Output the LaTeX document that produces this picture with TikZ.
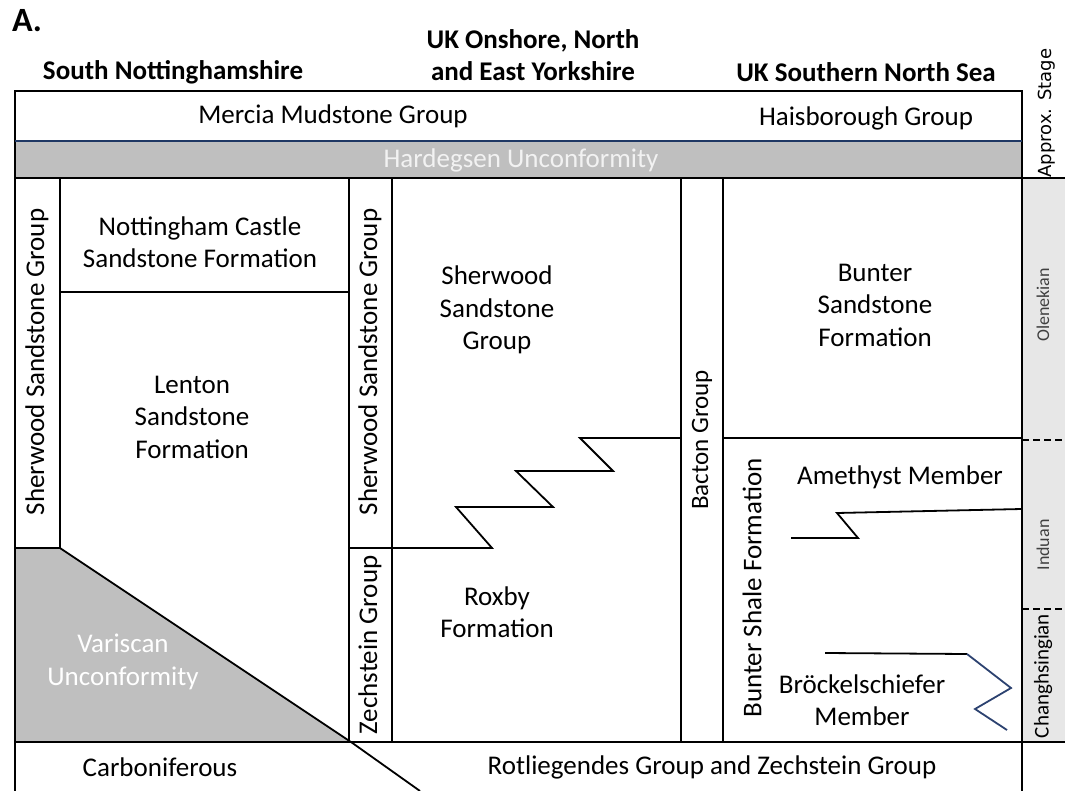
\documentclass[tikz,border=0pt]{standalone}
\usepackage{fontspec}
\setmainfont{Carlito}
\newfontfamily\widesans{DejaVu Sans}
\usepackage{tikz}
\definecolor{unconf}{RGB}{191,191,191}
\definecolor{stagegray}{RGB}{231,231,231}
\definecolor{navyline}{RGB}{31,56,100}
\definecolor{zigblue}{RGB}{44,66,112}
\tikzset{unit/.style={align=center,inner sep=0pt,font=\fontsize{27}{32.5}\selectfont},
         vunit/.style={unit,rotate=90},
         head/.style={align=center,inner sep=0pt,font=\bfseries\fontsize{27}{32}\selectfont},
         stage/.style={rotate=90,inner sep=0pt,text=black!75,font=\fontsize{18}{22}\selectfont},
         stagesep/.style={line width=1.3pt,dash pattern=on 7pt off 4pt}}

\begin{document}
\begin{tikzpicture}[x=1pt,y=-1pt,line width=1.8pt]
\useasboundingbox (0,0) rectangle (1065,791);
% shaded bands
\fill[unconf] (15,141) rectangle (1022,178);
\fill[unconf] (15,548) -- (60,548) -- (351,742) -- (15,742) -- cycle;
\fill[stagegray] (1022,178) rectangle (1065,742);
% frame and rows
\draw (15,791) -- (15,91) -- (1022,91) -- (1022,791);
\draw[navyline] (15,141) -- (1022,141);
\draw (15,178) -- (1065,178);
\draw (15,742) -- (1065,742);
% columns
\draw (60,178) -- (60,548) -- (15,548);
\draw (60,292) -- (349,292);
\draw (349,178) -- (349,742);
\draw (392,178) -- (392,742);
\draw (681,178) -- (681,742);
\draw (723,178) -- (723,742);
\draw (723,438) -- (1022,438);
\draw (60,548) -- (351,742) -- (420,791);
% interfingering
\draw (349,548) -- (492,548) -- (456,507) -- (553,507) -- (516,471) -- (613,471) -- (580,438) -- (681,438);
\draw (791,538) -- (858,538) -- (837,513) -- (1022,509);
\draw (825,653) -- (967,654);
\draw[zigblue] (967,654) -- (1011,688) -- (975,709) -- (1007,730);
% stage boundaries
\draw[stagesep] (1022,440) -- (1065,440);
\draw[stagesep] (1022,609) -- (1065,609);

% headers
\node[font=\bfseries\fontsize{34}{40}\selectfont] (panel) at (27,21) {A.};
\node[head] (hSN) at (173,72) {South Nottinghamshire};
\node[head] (hYK) at (533,55) {UK Onshore, North\\and East Yorkshire};
\node[head] (hNS) at (866,72) {UK Southern North Sea};
\node[rotate=90,inner sep=0pt,font=\widesans\fontsize{18}{22}\selectfont] (hStage) at (1047,113) {Approx. Stage};

% units
\node[unit] (mercia) at (333,116) {Mercia Mudstone Group};
\node[unit] (haisb) at (866,118) {Haisborough Group};
\node[unit,text=white!95!black] (hardeg) at (521,160) {Hardegsen Unconformity};
\node[vunit] (sherA) at (37,362) {Sherwood Sandstone Group};
\node[unit] (notts) at (200,242) {Nottingham Castle\\Sandstone Formation};
\node[unit] (lenton) at (192,417) {Lenton\\Sandstone\\Formation};
\node[unit,text=white] (varisc) at (123,662) {Variscan\\Unconformity};
\node[vunit] (sherB) at (370,362) {Sherwood Sandstone Group};
\node[vunit] (zech) at (370,645) {Zechstein Group};
\node[unit] (sherC) at (497,310) {Sherwood\\Sandstone\\Group};
\node[unit] (roxby) at (497,612) {Roxby\\Formation};
\node[vunit,font=\fontsize{25}{30}\selectfont] (bacton) at (702,440) {Bacton Group};
\node[unit] (bunterS) at (875,305) {Bunter\\Sandstone\\Formation};
\node[vunit] (bunterSh) at (752,588) {Bunter Shale Formation};
\node[unit] (amethyst) at (900,477) {Amethyst Member};
\node[unit] (brock) at (862,700) {Bröckelschiefer\\Member};
\node[unit] (carbon) at (160,767) {Carboniferous};
\node[unit] (rotl) at (712,767) {Rotliegendes Group and Zechstein Group};

% stages
\node[stage] (olen) at (1043,305) {Olenekian};
\node[stage] (induan) at (1043,545) {Induan};
\node[stage,font=\fontsize{21}{25}\selectfont,text=black] (chang) at (1043,676) {Changhsingian};
\end{tikzpicture}
\end{document}
